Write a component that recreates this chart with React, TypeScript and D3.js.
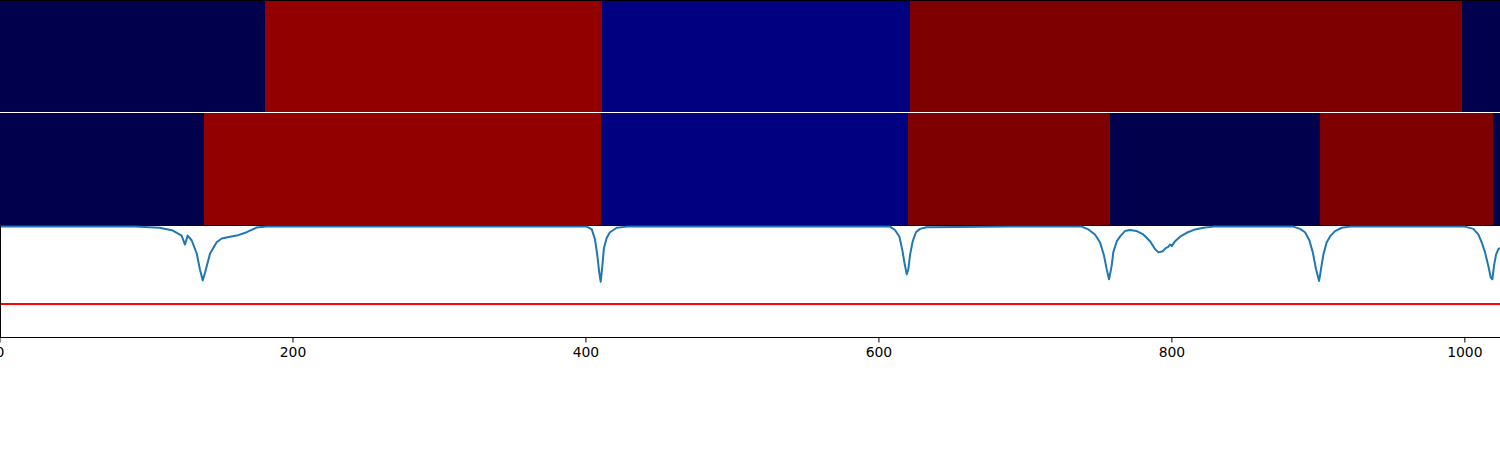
import * as d3 from 'd3';

// state segments for the two strips (start positions, last one runs to the end)
const row1Starts = [0, 181, 411, 621, 998];
const row1States = ['low', 'high', 'mid', 'top', 'low'];
const row2Starts = [0, 139, 410, 620, 758, 901, 1019];
const row2States = ['low', 'high', 'mid', 'top', 'low', 'top', 'low'];

// the curve under the strips
const curveX = [
  0, 63, 92, 109, 118, 124, 126.3, 128.1, 130.9, 134.3, 136.5, 138.4, 140, 143.4, 147.9, 151.4, 157, 161.6, 168.4, 175.2, 182,
  300, 400.5, 404, 406.2, 407.8, 409.1, 410.1, 411.2, 412.3, 414.2, 416.4, 421, 427.8,
  520, 607.6, 611, 614, 616, 617.4, 619, 620.1, 621.3, 623.1, 625.3, 628.1, 632.6,
  690, 738.5, 743, 747.5, 751, 753.7, 755.5, 757.1, 758.9, 760, 762.4, 765.1, 768, 771.4, 776, 780.5, 785.1, 788.5, 790.8,
  793.8, 796, 797.6, 798.7, 799.9, 802.2, 805.6, 810.1, 815.8, 821.5, 828.3,
  860, 882.9, 887.5, 890.9, 893.8, 896.2, 898.4, 900.5, 901.8, 903.4, 905.7, 908.4, 911.4, 916, 921.6,
  960, 1000.1, 1005.8, 1009.2, 1011.5, 1013.8, 1016, 1017.7, 1018.8, 1019.9, 1021.3, 1022.9, 1024,
];
const curveY = [
  0.99, 0.99, 0.99, 0.98, 0.955, 0.91, 0.83, 0.91, 0.866, 0.75, 0.607, 0.51, 0.58, 0.75, 0.85, 0.884, 0.9, 0.91, 0.94, 0.982, 0.99,
  0.99, 0.99, 0.965, 0.875, 0.73, 0.58, 0.498, 0.64, 0.8, 0.89, 0.94, 0.98, 0.99,
  0.99, 0.99, 0.96, 0.9, 0.78, 0.67, 0.565, 0.61, 0.74, 0.86, 0.94, 0.97, 0.985,
  0.99, 0.99, 0.965, 0.92, 0.848, 0.73, 0.61, 0.52, 0.64, 0.76, 0.86, 0.91, 0.95, 0.96, 0.95, 0.92, 0.86, 0.79, 0.76,
  0.77, 0.8, 0.81, 0.83, 0.816, 0.86, 0.9, 0.935, 0.965, 0.98, 0.99,
  0.99, 0.99, 0.97, 0.94, 0.87, 0.76, 0.61, 0.505, 0.61, 0.74, 0.85, 0.91, 0.95, 0.98, 0.99,
  0.99, 0.99, 0.97, 0.92, 0.85, 0.76, 0.64, 0.535, 0.52, 0.64, 0.74, 0.79, 0.8,
];
const threshold = 0.3;
const xTicks = [0, 200, 400, 600, 800, 1000];

const W = 1500;
const H = 450;
const N = 1024;

export default function App() {
  const x = d3.scaleLinear().domain([0, N]).range([0, W]);
  const y = d3.scaleLinear().domain([0, 1]).range([337.5, 225.5]);
  const color = d3.scaleOrdinal<string, string>()
    .domain(['low', 'mid', 'high', 'top'])
    .range(['#00004c', '#000080', '#920000', '#7f0000']);

  const strip = (starts: number[], states: string[], top: number, h: number) =>
    starts.map((s, i) => {
      const e = i + 1 < starts.length ? starts[i + 1] : N;
      const x0 = Math.round(x(s));
      const x1 = Math.round(x(e));
      return (
        <rect key={i} x={x0} y={top} width={x1 - x0} height={h} fill={color(states[i])}
          shapeRendering="crispEdges" />
      );
    });

  const pts = curveX.map((v, i) => [v, curveY[i]] as [number, number]);
  const line = d3.line<[number, number]>().x(d => x(d[0])).y(d => y(d[1]))(pts) || '';

  return (
    <svg width={W} height={H} style={{ position: 'fixed', left: 0, top: 0, background: '#fff' }}>
      {strip(row1Starts, row1States, 0, 112)}
      {strip(row2Starts, row2States, 113, 113)}
      <line x1={0} x2={W} y1={0.5} y2={0.5} stroke="#000" strokeWidth={1} />
      <line x1={0} x2={W} y1={225.5} y2={225.5} stroke="#000" strokeWidth={1} />

      <path d={line} fill="none" stroke="#1f77b4" strokeWidth={2} strokeLinejoin="round" />
      <line x1={0} x2={W} y1={y(threshold)} y2={y(threshold)} stroke="#ff0000" strokeWidth={2} />

      <line x1={0} x2={W} y1={337.5} y2={337.5} stroke="#000" strokeWidth={1} />
      <line x1={0.5} x2={0.5} y1={225.5} y2={337.5} stroke="#000" strokeWidth={1} />
      {xTicks.map(t => (
        <g key={t} transform={`translate(${x(t)},0)`}>
          <line y1={337.5} y2={342.5} stroke="#000" strokeWidth={1} />
          <text y={357} textAnchor="middle" fontFamily="DejaVu Sans" fontSize={13.9} fill="#000">
            {t}
          </text>
        </g>
      ))}
    </svg>
  );
}
